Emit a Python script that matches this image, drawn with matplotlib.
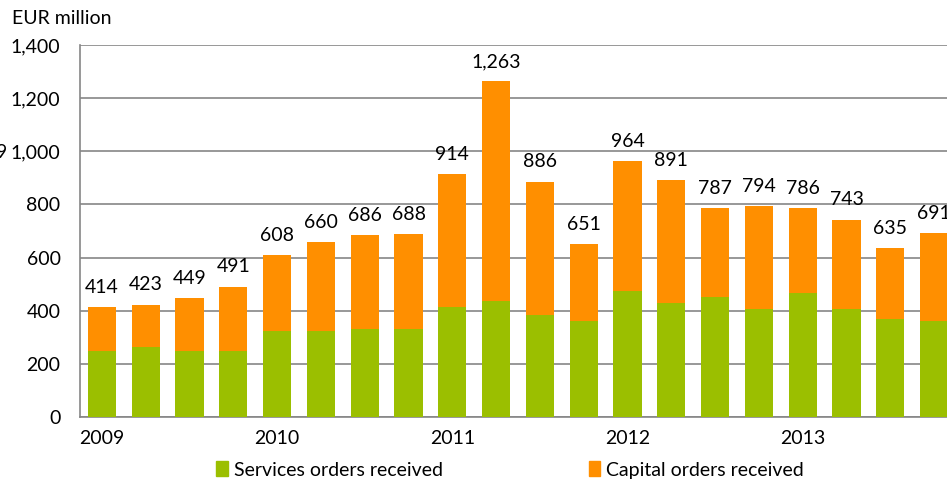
import matplotlib
matplotlib.use("Agg")
from matplotlib import pyplot as plt
from matplotlib.patches import Patch

# quarterly orders received, 2009 Q1 .. 2013 Q4
quarters = list(range(20))
year_labels = ["2009", "2010", "2011", "2012", "2013"]
totals = [414, 423, 449, 491, 608, 660, 686, 688, 914, 1263,
          886, 651, 964, 891, 787, 794, 786, 743, 635, 691]
services = [248, 262, 248, 248, 324, 324, 330, 330, 413, 435,
            384, 361, 473, 428, 450, 405, 466, 405, 368, 360]
capital = [t - s for t, s in zip(totals, services)]

green = "#9BBF00"
orange = "#FF8F00"
grid_col = "#868686"
font = "Lato"
fs = 14

fig = plt.figure(figsize=(9.47, 4.83), dpi=100)
# axes runs a little past the right edge, like the cropped original
ax = fig.add_axes([80 / 947, (483 - 417) / 483, 876 / 947, 372 / 483])

ax.bar(quarters, services, width=0.64, color=green, zorder=3)
ax.bar(quarters, capital, width=0.64, bottom=services, color=orange, zorder=3)

for x, t in zip(quarters, totals):
    ax.annotate(f"{t:,}", (x, t), xytext=(0, 8), textcoords="offset points",
                ha="center", va="bottom", fontsize=fs, family=font)

ax.set_xlim(-0.5, 19.5)
ax.set_ylim(0, 1400)
ax.set_yticks(range(0, 1401, 200))
ax.set_yticklabels([f"{v:,}" for v in range(0, 1401, 200)], fontsize=fs, family=font)
ax.set_xticks([0, 4, 8, 12, 16])
ax.set_xticklabels(year_labels, fontsize=fs, family=font)
ax.tick_params(axis="x", length=0, pad=9)
ax.tick_params(axis="y", length=0, pad=14)

ax.grid(axis="y", color=grid_col, linewidth=1.2, zorder=0)
for s in ["top", "right"]:
    ax.spines[s].set_visible(False)
for s in ["left", "bottom"]:
    ax.spines[s].set_color(grid_col)
    ax.spines[s].set_linewidth(1.2)

fig.text(12 / 947, 1 - 18 / 483, "EUR million", fontsize=fs, family=font,
         va="center", ha="left")
# leftover of a neighbouring chart at the left edge
fig.text(-4 / 947, 1 - 152 / 483, "9", fontsize=fs, family=font,
         va="center", ha="left")

handles = [Patch(color=green), Patch(color=orange)]
fig.legend(handles, ["Services orders received", "Capital orders received"],
           loc="center", bbox_to_anchor=(510 / 947, 1 - 470 / 483), ncol=2,
           frameon=False, prop={"family": font, "size": fs},
           handlelength=0.6, handleheight=0.8, handletextpad=0.3,
           columnspacing=7.5)

fig.savefig("out.png", dpi=100)
